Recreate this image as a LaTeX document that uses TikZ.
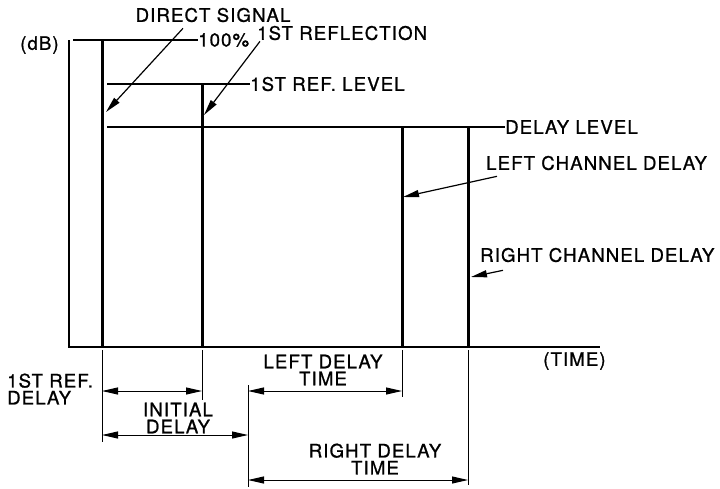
\documentclass[tikz,border=0pt]{standalone}
\usepackage{fontspec}
\setmainfont{TeX Gyre Heros}[LetterSpace=6, FakeBold=1]
\usetikzlibrary{arrows.meta,calc,positioning}

\begin{document}
\begin{tikzpicture}[x=1pt, y=-1pt,
      axis/.style={line width=1.5pt},
      bar/.style={line width=3pt},
      lvl/.style={line width=1.3pt},
      ext/.style={line width=1pt},
      ptr/.style={-{Triangle[length=16pt, width=7pt]}, line width=1.2pt},
      dim/.style={{Triangle[length=16pt, width=7pt]}-{Triangle[length=16pt, width=7pt]}, line width=1pt},
      lbl/.style={inner sep=0pt, font=\fontsize{18.6}{17}\selectfont}
    ]
      \useasboundingbox (0,0) rectangle (720,488);

      % Axes
      \coordinate (origin) at (69,347);
      \coordinate (ytop) at (69,40);
      \coordinate (xend) at (600,347);
      \draw[axis] (ytop) -- (origin) -- (xend);
      \node[lbl, anchor=west] (db) at (20,45) {(dB)};
      \node[lbl, anchor=west] (time) at (543,361) {(TIME)};

      % Signal bars
      \coordinate (dtop) at (102,40);  \coordinate (dbot) at (102,347);
      \coordinate (rtop) at (202,84);  \coordinate (rbot) at (202,347);
      \coordinate (ltop) at (402,127); \coordinate (lbot) at (402,347);
      \coordinate (gtop) at (468,127); \coordinate (gbot) at (468,347);
      \draw[bar] (dtop) -- (dbot);
      \draw[bar] (rtop) -- (rbot);
      \draw[bar] (ltop) -- (lbot);
      \draw[bar] (gtop) -- (gbot);

      % Levels
      \node[lbl, anchor=west] (full) at (198,40) {100\%};
      \node[lbl, anchor=west] (rlev) at (250,84) {1ST REF. LEVEL};
      \node[lbl, anchor=west] (dlev) at (505,127) {DELAY LEVEL};
      \draw[lvl] ([xshift=4pt]ytop) -- (full.west);
      \draw[lvl] ($(dtop |- rlev.west)+(5,0)$) -- (rlev.west);
      \draw[lvl] ($(dtop |- dlev.west)+(5,0)$) -- (dlev.west);

      % Pointer labels
      \node[lbl] (dsig) at (213,15) {DIRECT SIGNAL};
      \node[lbl, anchor=west] (refl) at (257,33) {1ST REFLECTION};
      \node[lbl, anchor=west] (lcd) at (486,163) {LEFT CHANNEL DELAY};
      \node[lbl, anchor=west] (rcd) at (480,255) {RIGHT CHANNEL DELAY};
      \coordinate (dtip) at (106,112);
      \coordinate (rtip) at (204,115);
      \coordinate (ltip) at (403,197);
      \coordinate (gtip) at (471,277);
      \draw[ptr] ([xshift=-30pt, yshift=-6pt]dsig.south) -- (dtip);
      \draw[ptr] ([xshift=3pt, yshift=-1pt]refl.south west) -- (rtip);
      \draw[ptr] ([xshift=11pt, yshift=-6pt]lcd.south west) -- (ltip);
      \draw[ptr] ([xshift=23pt, yshift=-8pt]rcd.south west) -- (gtip);

      % Time spans
      \coordinate (iend) at (248,385);
      \coordinate (rowa) at (0,391);
      \coordinate (rowb) at (0,435);
      \coordinate (rowc) at (0,480);
      \draw[ext] ([yshift=-3pt]dbot) -- ++(0,92);
      \draw[ext] ([yshift=-3pt]rbot) -- ++(0,50);
      \draw[ext] (iend) -- ++(0,102);
      \draw[ext] ([yshift=-3pt]lbot) -- ++(0,47);
      \draw[ext] ([yshift=-3pt]gbot) -- ++(0,135);
      \draw[dim] (dbot |- rowa) -- (rbot |- rowa);
      \draw[dim] (dbot |- rowb) -- (iend |- rowb);
      \draw[dim] (iend |- rowa) -- (lbot |- rowa);
      \draw[dim] (iend |- rowc) -- (gbot |- rowc);
      \node[lbl, anchor=west, align=left] (frd) at (7,389) {1ST REF.\\DELAY};
      \node[lbl, align=center] (init) at (178,418) {INITIAL\\DELAY};
      \node[lbl, align=center] (ldt) at (323,370) {LEFT DELAY\\TIME};
      \node[lbl, align=center] (rdt) at (375,459) {RIGHT DELAY\\TIME};
    \end{tikzpicture}
\end{document}
